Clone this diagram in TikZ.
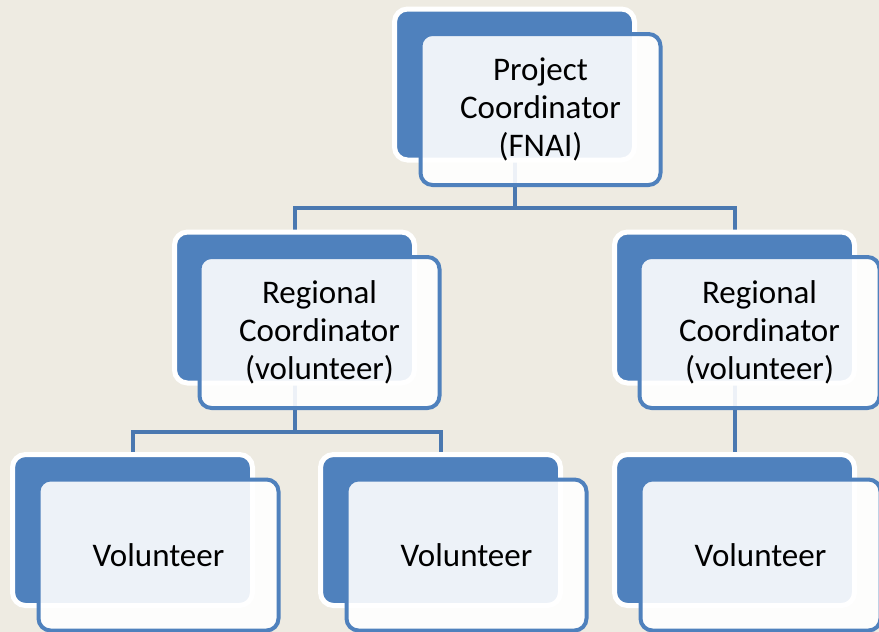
\documentclass[tikz,border=0pt]{standalone}
\usepackage{fontspec}
\setmainfont{Carlito}
\usetikzlibrary{positioning,calc}
\definecolor{paper}{HTML}{EEEBE2}
\definecolor{accent}{HTML}{4F81BD}
\definecolor{wire}{HTML}{4A78B0}

\pgfdeclarelayer{paper}
\pgfdeclarelayer{wires}
\pgfsetlayers{paper,wires,main}

\begin{document}
\begin{tikzpicture}[
  x = 1pt,
  y = -1pt,
  backbox/.style = {
    draw = white,
    line width = 5pt,
    fill = accent,
    rounded corners = 13pt,
    minimum width = 240pt,
    minimum height = 151pt,
  },
  frontbox/.style = {
    draw = accent,
    line width = 4pt,
    fill = white,
    fill opacity = 0.9,
    text opacity = 1,
    rounded corners = 12pt,
    minimum width = 240pt,
    minimum height = 151pt,
    align = center,
    font = \fontsize{33}{38}\selectfont,
  },
  link/.style = {
    draw = wire,
    line width = 4pt,
  },
]

  \begin{pgfonlayer}{paper}
    \fill[paper] (0,0) rectangle (879,632);
  \end{pgfonlayer}
  \useasboundingbox (0,0) rectangle (879,632);

  % back plates
  \node[backbox] (pc)  at (514.5,84.5) {};
  \node[backbox] (rc1) at (294.5,307.5) {};
  \node[backbox] (rc2) at (734.5,307.5) {};
  \node[backbox] (v1)  at (132.5,530) {};
  \node[backbox] (v2)  at (440.5,530) {};
  \node[backbox] (v3)  at (734.5,530) {};

  % front cards
  \node[frontbox] (pcT)  at ([shift={(26,25)}]pc.center)  {Project\\Coordinator\\(FNAI)};
  \node[frontbox] (rc1T) at ([shift={(25,25)}]rc1.center) {Regional\\Coordinator\\(volunteer)};
  \node[frontbox] (rc2T) at ([shift={(25,25)}]rc2.center) {Regional\\Coordinator\\(volunteer)};
  \node[frontbox] (v1T)  at ([shift={(26,25)}]v1.center)  {Volunteer};
  \node[frontbox] (v2T)  at ([shift={(26,25)}]v2.center)  {Volunteer};
  \node[frontbox] (v3T)  at ([shift={(26,25)}]v3.center)  {Volunteer};

  \coordinate (upper bar) at (0,208);
  \coordinate (lower bar) at (0,432);

  \begin{pgfonlayer}{wires}
    \draw[link] (pc.center) -- (pc.center |- upper bar) -| (rc1.center);
    \draw[link] (pc.center |- upper bar) -| (rc2.center);
    \draw[link] (rc1.center) -- (rc1.center |- lower bar) -| (v1.center);
    \draw[link] (rc1.center |- lower bar) -| (v2.center);
    \draw[link] (rc2.center) -- (v3.center);
  \end{pgfonlayer}

\end{tikzpicture}
\end{document}
